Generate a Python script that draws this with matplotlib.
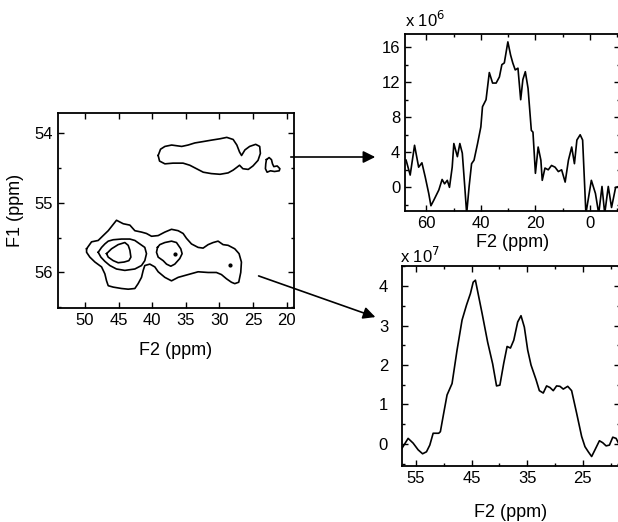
import matplotlib
matplotlib.use("Agg")
import matplotlib.pyplot as plt
from matplotlib.ticker import MultipleLocator

plt.rcParams["font.family"] = ["Liberation Sans", "DejaVu Sans"]

# ---- 2D contour outlines (F2 ppm, F1 ppm) ----
up_f2 = [39.1, 38.75, 38.1, 37.1, 35.6, 34.65, 33.65, 32.4, 31.2, 29.9, 28.9, 27.95, 27.4, 27.0,
         26.7, 26.2, 25.5, 24.6, 24.0, 23.9, 24.25, 25.0, 25.7, 26.5, 27.0, 27.4, 27.95, 28.7,
         29.9, 31.2, 32.4, 33.4, 34.4, 35.4, 36.9, 38.1, 38.9, 39.1]
up_f1 = [54.32, 54.23, 54.19, 54.17, 54.19, 54.17, 54.14, 54.12, 54.10, 54.08, 54.06, 54.09, 54.17, 54.27,
         54.32, 54.24, 54.19, 54.16, 54.19, 54.29, 54.39, 54.47, 54.52, 54.51, 54.46, 54.49, 54.53, 54.57,
         54.59, 54.58, 54.56, 54.51, 54.46, 54.43, 54.43, 54.44, 54.40, 54.32]

small_f2 = [23.0, 22.6, 22.25, 22.1, 21.9, 21.4, 21.0, 21.1, 21.8, 22.4, 22.9, 23.15, 23.1, 23.0]
small_f1 = [54.38, 54.35, 54.38, 54.44, 54.48, 54.47, 54.51, 54.54, 54.55, 54.54, 54.56, 54.51, 54.44, 54.38]

outer_f2 = [49.75, 49.01, 48.02, 47.28, 46.53, 45.30, 44.30, 43.31, 42.57, 41.58, 40.84, 40.09, 39.10,
            38.11, 37.12, 36.13, 35.39, 34.89, 34.15, 33.16, 32.42, 31.67, 30.93, 30.19, 29.45, 28.70,
            27.71, 27.07, 26.72, 26.82, 27.12, 27.71, 28.21, 28.95, 29.69, 30.44, 31.67, 33.16, 34.65,
            36.13, 37.12, 38.11, 39.10, 39.60, 40.34, 41.09, 41.33, 41.58, 42.08, 42.57, 43.56, 44.55,
            45.79, 46.53, 46.78, 47.03, 47.52, 48.51, 49.26, 49.75, 49.75]
outer_f1 = [55.66, 55.56, 55.54, 55.47, 55.40, 55.25, 55.30, 55.32, 55.40, 55.42, 55.44, 55.48, 55.47,
            55.42, 55.38, 55.40, 55.44, 55.51, 55.59, 55.64, 55.65, 55.60, 55.57, 55.55, 55.60, 55.61,
            55.66, 55.73, 55.85, 56.00, 56.14, 56.16, 56.14, 56.09, 56.03, 56.00, 56.00, 55.99, 56.03,
            56.07, 56.12, 56.07, 55.99, 55.92, 55.88, 55.90, 55.97, 56.07, 56.16, 56.23, 56.24, 56.23,
            56.21, 56.19, 56.12, 56.02, 55.92, 55.85, 55.78, 55.71, 55.66]

mid_f2 = [48.02, 47.52, 47.03, 46.53, 45.79, 44.55, 43.31, 42.57, 41.83, 41.09, 40.84, 41.09, 41.58,
          42.57, 44.06, 45.30, 46.29, 47.03, 47.62, 48.02]
mid_f1 = [55.71, 55.64, 55.59, 55.55, 55.53, 55.52, 55.52, 55.54, 55.59, 55.64, 55.73, 55.83, 55.90,
          55.95, 55.97, 55.95, 55.90, 55.84, 55.78, 55.71]

inner_f2 = [46.78, 46.04, 45.05, 44.06, 43.56, 43.31, 43.16, 43.46, 44.16, 45.05, 45.79, 46.53, 46.78]
inner_f1 = [55.73, 55.66, 55.60, 55.57, 55.61, 55.68, 55.78, 55.83, 55.85, 55.86, 55.83, 55.78, 55.73]

c36_f2 = [39.20, 38.86, 38.11, 37.12, 36.38, 35.74, 35.54, 35.89, 36.63, 37.22, 37.86, 38.36, 39.10,
          39.35, 39.20]
c36_f1 = [55.64, 55.60, 55.57, 55.55, 55.57, 55.66, 55.73, 55.80, 55.88, 55.91, 55.88, 55.83, 55.78,
          55.71, 55.64]

dot_f2 = [36.63, 28.45]
dot_f1 = [55.73, 55.89]

# ---- 1D slice at F1 ~ 54.3 ppm (x 10^6) ----
s1_ppm = [67.4, 65.9, 64.3, 62.8, 61.6, 60.4, 59.1, 58.3, 57.3, 55.4, 54.2, 53.3, 52.3, 51.5, 50.5,
          49.9, 48.6, 47.7, 46.8, 45.9, 45.2, 44.3, 43.4, 42.5, 41.2, 40.0, 39.4, 38.1, 36.9, 35.7,
          34.4, 33.2, 32.3, 31.4, 30.1, 29.1, 28.3, 27.4, 26.4, 25.4, 24.6, 23.7, 22.7, 21.5, 20.9,
          20.0, 19.0, 18.0, 17.5, 16.5, 15.3, 14.1, 12.8, 11.6, 10.4, 9.1, 7.9, 6.7, 5.7, 4.8, 3.6,
          2.7, 1.5, -0.5, -2.0, -3.2, -4.4, -5.4, -6.7, -7.9, -9.4, -10.6]
s1_val = [3.1, 1.4, 4.8, 2.3, 2.8, 1.2, -0.7, -2.1, -1.5, -0.3, 0.9, 0.4, 0.8, 0.0, 2.3,
          5.0, 3.5, 5.0, 3.9, 0.1, -3.0, 0.1, 2.7, 3.1, 5.0, 6.9, 9.2, 10.0, 13.1, 11.9,
          11.9, 12.6, 14.0, 14.2, 16.6, 15.1, 14.2, 13.4, 13.6, 10.0, 12.3, 13.2, 11.3, 6.5, 6.3,
          1.6, 4.6, 3.1, 0.8, 2.2, 2.0, 2.5, 2.3, 1.8, 2.0, 0.6, 3.1, 4.6, 2.7, 5.4, 6.0,
          5.4, -3.0, 0.8, -0.7, -3.0, 0.1, -3.0, 0.1, -2.3, 0.0, 0.1]

# ---- 1D slice at F1 ~ 55.9 ppm (x 10^7) ----
s2_ppm = [57.5, 56.4, 55.5, 54.6, 53.8, 53.1, 52.5, 51.9, 50.9, 50.6, 50.0, 49.4, 48.5, 47.6, 46.7,
          45.9, 45.2, 44.7, 44.3, 43.7, 43.1, 42.1, 41.2, 40.5, 39.9, 39.2, 38.6, 38.0, 37.4, 36.7,
          36.1, 35.5, 34.9, 34.3, 33.4, 32.8, 32.1, 31.5, 30.9, 30.3, 29.7, 29.1, 28.5, 27.7, 27.0,
          26.1, 25.2, 24.6, 24.0, 23.4, 22.8, 22.0, 21.4, 20.8, 20.2, 19.6, 19.0, 18.4]
s2_val = [-0.11, 0.14, 0.02, -0.15, -0.25, -0.20, -0.03, 0.27, 0.27, 0.31, 0.78, 1.24, 1.53, 2.38, 3.14,
          3.52, 3.81, 4.10, 4.15, 3.73, 3.31, 2.58, 2.03, 1.47, 1.49, 2.05, 2.47, 2.43, 2.63, 3.09,
          3.25, 2.96, 2.38, 2.00, 1.63, 1.35, 1.29, 1.47, 1.43, 1.35, 1.47, 1.46, 1.39, 1.46, 1.35,
          0.78, 0.19, -0.07, -0.20, -0.32, -0.15, 0.08, 0.03, -0.05, -0.03, 0.17, 0.14, -0.03]

W, H = 618, 522
fig = plt.figure(figsize=(W / 100, H / 100), dpi=100)


def box(l, t, r, b):
    return [l / W, 1 - b / H, (r - l) / W, (b - t) / H]


def style(ax):
    ax.tick_params(direction="in", top=True, right=True, which="both", labelsize=12,
                   width=1.0, length=4)
    ax.tick_params(which="minor", length=2.5)
    for s in ax.spines.values():
        s.set_linewidth(1.3)


# left: 2D contour map
ax0 = fig.add_axes(box(58, 113, 294, 308))
for xs, ys in [(up_f2, up_f1), (small_f2, small_f1), (outer_f2, outer_f1),
               (mid_f2, mid_f1), (inner_f2, inner_f1), (c36_f2, c36_f1)]:
    ax0.plot(xs, ys, color="black", lw=1.2)
ax0.plot(dot_f2, dot_f1, "o", color="black", ms=2)
ax0.set_xlim(54.0, 18.9)
ax0.set_ylim(56.51, 53.71)
ax0.set_xticks([50, 45, 40, 35, 30, 25, 20])
ax0.set_yticks([54, 55, 56])
ax0.yaxis.set_minor_locator(MultipleLocator(0.5))
style(ax0)
ax0.set_xlabel("F2 (ppm)", fontsize=13, labelpad=10)
ax0.set_ylabel("F1 (ppm)", fontsize=13, labelpad=8)

# top right slice
ax1 = fig.add_axes(box(405, 34, 620, 211))
ax1.plot(s1_ppm, s1_val, color="black", lw=1.2)
ax1.set_xlim(67.8, -11.0)
ax1.set_ylim(-2.7, 17.5)
ax1.set_xticks([60, 40, 20, 0])
ax1.xaxis.set_minor_locator(MultipleLocator(10))
ax1.set_yticks([0, 4, 8, 12, 16])
ax1.yaxis.set_minor_locator(MultipleLocator(2))
style(ax1)
ax1.spines["right"].set_visible(False)
ax1.set_xlabel("F2 (ppm)", fontsize=13, labelpad=2)
ax1.text(0.0, 1.02, r"x 10$^{6}$", transform=ax1.transAxes, fontsize=12, ha="left", va="bottom")

# bottom right slice
ax2 = fig.add_axes(box(402, 266, 620, 466))
ax2.plot(s2_ppm, s2_val, color="black", lw=1.2)
ax2.set_xlim(57.5, 18.3)
ax2.set_ylim(-0.56, 4.51)
ax2.set_xticks([55, 45, 35, 25])
ax2.xaxis.set_minor_locator(MultipleLocator(5))
ax2.set_yticks([0, 1, 2, 3, 4])
ax2.yaxis.set_minor_locator(MultipleLocator(0.5))
style(ax2)
ax2.tick_params(axis="y", pad=10)
ax2.spines["right"].set_visible(False)
ax2.set_xlabel("F2 (ppm)", fontsize=13, labelpad=13)
ax2.text(-0.01, 1.0, r"x 10$^{7}$", transform=ax2.transAxes, fontsize=12, ha="left", va="bottom")

# arrows from the contour map to the slices
fig.add_artist(matplotlib.patches.FancyArrowPatch(
    (288 / W, 1 - 157 / H), (378 / W, 1 - 157 / H), transform=fig.transFigure,
    arrowstyle="-|>", mutation_scale=18, color="black", lw=1.2))
fig.add_artist(matplotlib.patches.FancyArrowPatch(
    (256 / W, 1 - 275 / H), (378 / W, 1 - 318 / H), transform=fig.transFigure,
    arrowstyle="-|>", mutation_scale=18, color="black", lw=1.2))

fig.savefig("out.png", dpi=100)
